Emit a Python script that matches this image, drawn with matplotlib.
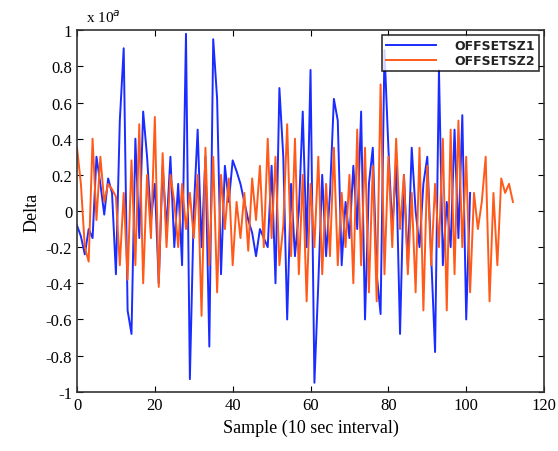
import numpy as np
from matplotlib import pyplot as plt

# values (units of 10^-4)
offset_sz1 = [-0.08, -0.14, -0.24, -0.10, -0.15, 0.30, 0.15, -0.02, 0.18, 0.10,
              -0.35, 0.50, 0.90, -0.55, -0.68, 0.40, -0.15, 0.55, 0.30, -0.05,
              0.15, -0.40, 0.25, -0.10, 0.30, -0.20, 0.15, -0.30, 0.98, -0.93,
              0.00, 0.45, -0.20, 0.30, -0.75, 0.95, 0.62, -0.35, 0.25, 0.05,
              0.28, 0.22, 0.15, 0.05, -0.05, -0.12, -0.25, -0.10, -0.15, -0.20,
              0.25, -0.40, 0.68, 0.30, -0.60, 0.15, -0.25, 0.00, 0.55, -0.20,
              0.78, -0.95, -0.40, 0.20, -0.25, 0.10, 0.62, 0.50, -0.30, 0.05,
              -0.15, 0.25, -0.10, 0.55, -0.60, 0.15, 0.35, -0.35, -0.57, 0.89,
              0.35, -0.10, 0.25, -0.68, 0.20, -0.30, 0.35, 0.00, -0.20, 0.15,
              0.30, -0.25, -0.78, 0.78, -0.30, 0.05, -0.20, 0.45, -0.15, 0.53,
              -0.60, 0.10]

offset_sz2 = [0.35, 0.15, -0.20, -0.28, 0.40, -0.05, 0.30, 0.05, 0.15, 0.12,
              0.08, -0.30, 0.10, -0.38, 0.28, -0.30, 0.48, -0.40, 0.20, -0.15,
              0.52, -0.42, 0.32, -0.20, 0.20, 0.05, -0.20, 0.15, -0.10, 0.10,
              -0.15, 0.20, -0.58, 0.35, -0.30, 0.30, -0.45, 0.20, -0.10, 0.18,
              -0.30, 0.05, -0.15, 0.10, -0.22, 0.18, -0.05, 0.25, -0.20, 0.40,
              -0.15, 0.30, -0.30, -0.08, 0.48, -0.25, 0.40, -0.35, 0.20, -0.50,
              0.15, -0.20, 0.30, -0.35, 0.15, -0.25, 0.35, -0.30, 0.10, -0.20,
              0.20, -0.40, 0.45, -0.30, 0.35, -0.45, 0.25, -0.50, 0.70, -0.35,
              0.30, -0.20, 0.40, -0.10, 0.20, -0.35, 0.10, -0.45, 0.35, -0.55,
              0.25, -0.30, 0.15, -0.20, 0.40, -0.55, 0.45, -0.35, 0.50, -0.20,
              0.30, -0.45, 0.10, -0.10, 0.05, 0.30, -0.50, 0.10, -0.30, 0.18,
              0.10, 0.15, 0.05]

x_ticks = [0, 20, 40, 60, 80, 100, 120]
y_ticks = [-1, -0.8, -0.6, -0.4, -0.2, 0, 0.2, 0.4, 0.6, 0.8, 1]
y_labels = ['-1', '-0.8', '-0.6', '-0.4', '-0.2', '0', '0.2', '0.4', '0.6', '0.8', '1']

plt.rcParams['font.family'] = ['Liberation Serif', 'DejaVu Serif']

fig = plt.figure(figsize=(5.58, 4.52), dpi=100)
ax = fig.add_axes([0.138, 0.131, 0.837, 0.8])

ax.plot(np.arange(len(offset_sz1)), offset_sz1, color='#1a2cff', lw=1.4, label='OFFSETSZ1')
ax.plot(np.arange(len(offset_sz2)), offset_sz2, color='#ff5a1a', lw=1.4, label='OFFSETSZ2')

ax.set_xlim(0, 120)
ax.set_ylim(-1, 1)
ax.set_xticks(x_ticks)
ax.set_yticks(y_ticks)
ax.set_yticklabels(y_labels)
ax.tick_params(direction='in', top=True, right=True, labelsize=12, length=4)
for s in ax.spines.values():
    s.set_linewidth(1.2)
    s.set_color('#333333')

ax.set_xlabel('Sample (10 sec interval)', fontsize=13)
ax.set_ylabel('Delta', fontsize=13)
ax.text(0.02, 1.015, r'x 10$^{a}$', transform=ax.transAxes, fontsize=11, va='bottom')

leg = ax.legend(loc='upper right', frameon=True, fancybox=False,
                borderaxespad=0.4, handlelength=4.0, handletextpad=1.5,
                borderpad=0.3, labelspacing=0.2,
                prop={'family': 'DejaVu Sans', 'weight': 'bold', 'size': 9})
leg.get_frame().set_edgecolor('black')
leg.get_frame().set_linewidth(1.2)
for t in leg.get_texts():
    t.set_color('#222222')

fig.savefig('out.png', dpi=100)
